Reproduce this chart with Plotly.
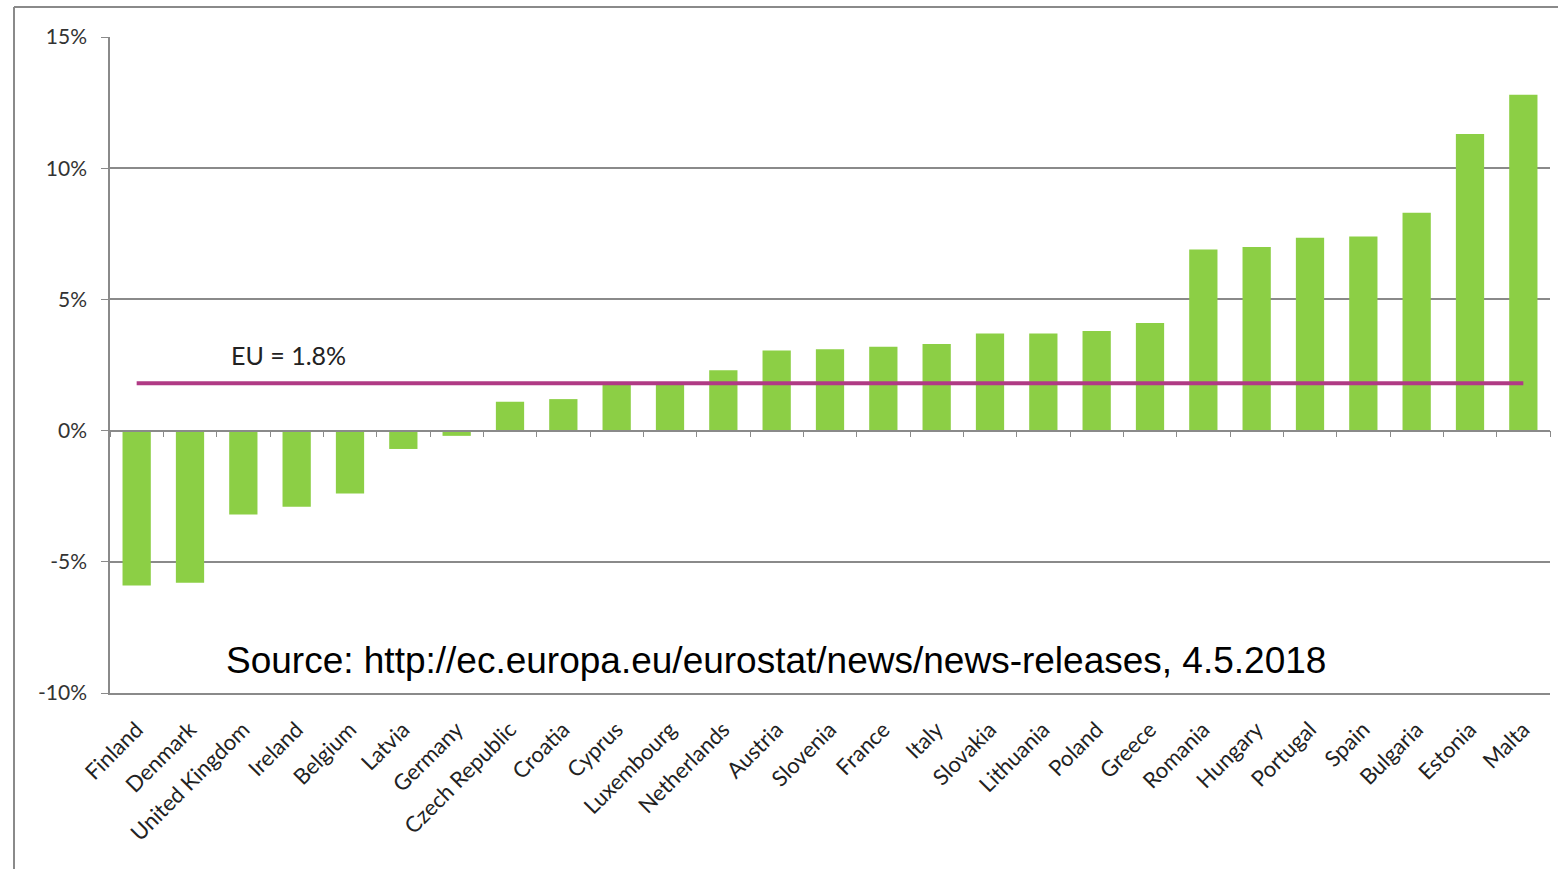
import plotly.graph_objects as go

countries = ["Finland", "Denmark", "United Kingdom", "Ireland", "Belgium", "Latvia", "Germany",
             "Czech Republic", "Croatia", "Cyprus", "Luxembourg", "Netherlands", "Austria",
             "Slovenia", "France", "Italy", "Slovakia", "Lithuania", "Poland", "Greece",
             "Romania", "Hungary", "Portugal", "Spain", "Bulgaria", "Estonia", "Malta"]
values = [-5.9, -5.8, -3.2, -2.9, -2.4, -0.7, -0.2,
          1.1, 1.2, 1.8, 1.8, 2.3, 3.05,
          3.1, 3.2, 3.3, 3.7, 3.7, 3.8, 4.1,
          6.9, 7.0, 7.35, 7.4, 8.3, 11.3, 12.8]
y_tick_values = [-10, -5, 0, 5, 10, 15]
y_tick_labels = ["-10%", "-5%", "0%", "5%", "10%", "15%"]
eu_value = 1.8
eu_label = "EU = 1.8%"
source_text = "Source: http://ec.europa.eu/eurostat/news/news-releases, 4.5.2018"

W, H = 1558, 869
ml, mr, mt, mb = 110, 8, 37, 176
pw = W - ml - mr
ph = H - mt - mb

grid = "#8a8a8a"
font_fam = "Lato, 'Open Sans', sans-serif"

fig = go.Figure()
fig.add_trace(go.Bar(x=countries, y=values, marker=dict(color="#8ccf45", line=dict(width=0)),
                     width=0.53, showlegend=False, hoverinfo="x+y"))
fig.add_trace(go.Scatter(x=[countries[0], countries[-1]], y=[eu_value, eu_value], mode="lines",
                         line=dict(color="#b03a85", width=4), showlegend=False))
# invisible trace on overlay axis for the zero-line ticks
fig.add_trace(go.Scatter(x=countries, y=[None] * len(countries), xaxis="x2", mode="markers",
                         showlegend=False, hoverinfo="skip"))

ymin, ymax = -10, 15
zero_frac = (0 - ymin) / (ymax - ymin)

fig.update_layout(
    width=W, height=H,
    margin=dict(l=ml, r=mr, t=mt, b=mb),
    paper_bgcolor="white", plot_bgcolor="white",
    font=dict(family=font_fam, color="#333333"),
    xaxis=dict(type="category", categoryorder="array", categoryarray=countries,
               range=[-0.5, len(countries) - 0.5],
               tickangle=-45, tickfont=dict(size=22, color="#222222", family=font_fam),
               showgrid=False, showline=True, linecolor=grid, linewidth=2,
               ticks="", ticklabelstandoff=13, zeroline=False),
    xaxis2=dict(type="category", categoryorder="array", categoryarray=countries,
                range=[-0.5, len(countries) - 0.5], overlaying="x", anchor="free",
                position=zero_frac, showline=True, linecolor=grid, linewidth=1.5,
                ticks="outside", tickson="boundaries", ticklen=6, tickcolor=grid,
                showticklabels=False, showgrid=False, zeroline=False),
    yaxis=dict(range=[ymin, ymax], tickvals=y_tick_values, ticktext=y_tick_labels,
               showgrid=True, gridcolor=grid, gridwidth=1.5, zeroline=False,
               showline=True, linecolor=grid, linewidth=1.5,
               ticks="outside", ticklen=7, tickcolor=grid, ticklabelstandoff=10,
               tickfont=dict(size=21, color="#333333", family=font_fam)),
    annotations=[
        dict(x=2.85, y=eu_value + 1.1, xref="x", yref="y", text=eu_label, showarrow=False,
             xanchor="center", yanchor="middle",
             font=dict(size=25, color="#222222", family=font_fam)),
        dict(x=(776 - ml) / pw, y=(693 - 660) / ph, xref="paper", yref="paper",
             text=source_text, showarrow=False, xanchor="center", yanchor="middle",
             font=dict(size=37, color="black", family="Liberation Sans, Arial, sans-serif")),
    ],
    shapes=[
        dict(type="line", xref="paper", yref="paper", x0=(14 - ml) / pw, x1=(14 - ml) / pw,
             y0=(H - mb - 7) / ph, y1=-mb / ph, line=dict(color="#8a8a8a", width=2)),
        dict(type="line", xref="paper", yref="paper", x0=(14 - ml) / pw, x1=(W - ml) / pw,
             y0=(H - mb - 7) / ph, y1=(H - mb - 7) / ph, line=dict(color="#8a8a8a", width=2)),
    ],
)

fig.write_html("out.html")
